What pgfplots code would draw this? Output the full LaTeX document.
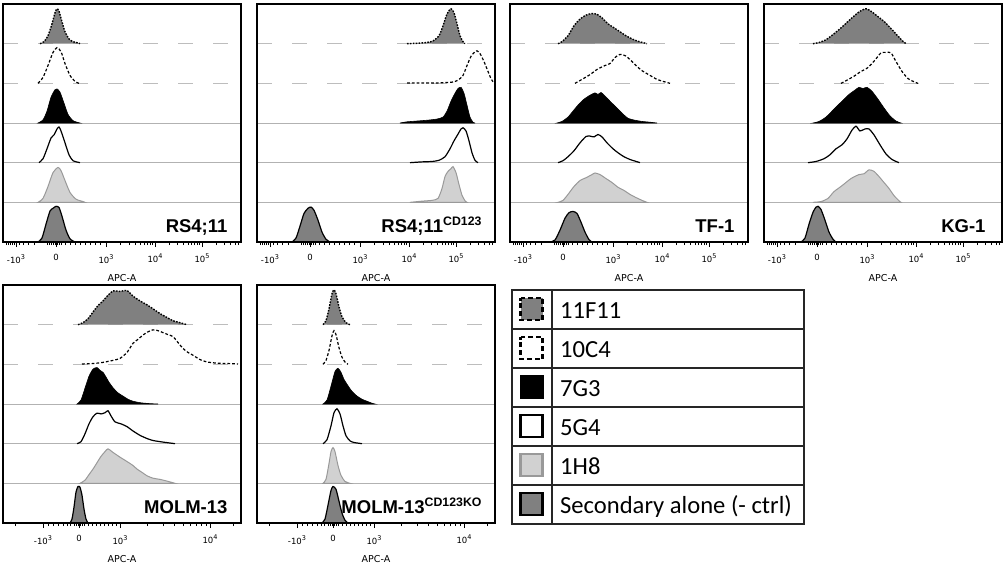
\documentclass[border=0pt]{standalone}
\usepackage{pgfplots}
\pgfplotsset{compat=1.18}
\usepackage{pgfplotstable}
\usepackage{fontspec}
\setmainfont{Liberation Sans}
\newfontfamily\dejavu{DejaVu Sans}
\newfontfamily\carlito{Carlito}
\newcommand{\ex}[1]{\raisebox{4pt}{\fontsize{6.5}{7}\selectfont #1}}

\definecolor{cF}{gray}{0.5}
\definecolor{cSec}{gray}{0.5}
\definecolor{cL}{gray}{0.82}
\definecolor{dL}{gray}{0.6}
\definecolor{baseD}{gray}{0.74}
\definecolor{baseS}{gray}{0.7}

% ---------- Panel A: RS4;11 ----------
\pgfplotstableread{
x h
37 0
41 0.05
45 0.2
49 0.5
52 0.78
54 0.88
56 0.82
59 0.55
62 0.3
66 0.12
70 0.05
75 0.02
77 0
}\dataAa
\pgfplotstableread{
x h
35 0
40 0.15
45 0.45
50 0.78
54 0.9
58 0.8
62 0.5
67 0.2
72 0.05
76 0
}\dataAb
\pgfplotstableread{
x h
35 0
40 0.08
44 0.3
48 0.65
52 0.84
54 0.86
57 0.78
61 0.5
65 0.22
70 0.06
77 0
}\dataAc
\pgfplotstableread{
x h
36 0
40 0.1
44 0.35
48 0.62
51 0.7
54 0.85
56 0.9
58 0.8
62 0.5
66 0.2
70 0.05
77 0
}\dataAd
\pgfplotstableread{
x h
35 0
40 0.1
45 0.4
50 0.75
55 0.88
58 0.8
62 0.55
67 0.25
73 0.08
80 0.02
82 0
}\dataAe
\pgfplotstableread{
x h
35 0
39 0.1
43 0.45
47 0.78
50 0.85
53 0.9
56 0.87
59 0.65
63 0.3
67 0.08
72 0
}\dataAf

% ---------- Panel B: RS4;11 CD123 ----------
\pgfplotstableread{
x h
150 0
160 0.01
170 0.03
176 0.07
182 0.2
186 0.45
190 0.75
194 0.88
197 0.78
200 0.5
203 0.2
206 0.05
208 0
}\dataBa
\pgfplotstableread{
x h
150 0.01
165 0.01
180 0.01
195 0.03
201 0.08
206 0.2
210 0.45
214 0.68
218 0.8
220 0.82
223 0.75
227 0.55
231 0.3
234 0.12
236 0.04
}\dataBb
\pgfplotstableread{
x h
143 0
150 0.03
160 0.05
170 0.07
180 0.1
186 0.15
190 0.3
194 0.55
198 0.75
201 0.87
204 0.9
207 0.75
210 0.45
213 0.15
216 0.02
218 0
}\dataBc
\pgfplotstableread{
x h
153 0
165 0.02
175 0.03
182 0.06
188 0.15
193 0.35
197 0.55
201 0.72
204 0.85
206 0.88
209 0.8
212 0.55
215 0.25
218 0.06
221 0
}\dataBd
\pgfplotstableread{
x h
153 0
165 0.03
175 0.05
181 0.1
185 0.35
188 0.65
191 0.78
194 0.85
196 0.9
199 0.75
202 0.45
205 0.18
208 0.04
210 0
}\dataBe
\pgfplotstableread{
x h
35 0
39 0.1
43 0.4
47 0.72
51 0.85
54 0.88
57 0.8
61 0.55
65 0.25
69 0.07
73 0
}\dataBf

% ---------- Panel C: TF-1 ----------
\pgfplotstableread{
x h
48 0
52 0.05
58 0.2
64 0.45
70 0.62
76 0.72
82 0.76
87 0.74
92 0.65
98 0.5
104 0.4
110 0.3
116 0.2
122 0.12
128 0.06
134 0.02
137 0
}\dataCa
\pgfplotstableread{
x h
65 0
72 0.1
80 0.22
87 0.35
95 0.45
100 0.5
105 0.65
110 0.73
115 0.7
120 0.6
126 0.45
132 0.32
140 0.2
147 0.1
153 0.05
160 0
}\dataCb
\pgfplotstableread{
x h
47 0
52 0.04
58 0.15
63 0.3
68 0.45
74 0.6
80 0.7
85 0.76
88 0.72
91 0.77
95 0.68
100 0.55
106 0.4
112 0.25
118 0.12
125 0.07
132 0.04
140 0.02
147 0
}\dataCc
\pgfplotstableread{
x h
48 0
53 0.05
58 0.15
64 0.3
70 0.5
76 0.66
80 0.67
84 0.65
88 0.71
92 0.65
97 0.5
103 0.35
108 0.25
114 0.15
120 0.08
125 0.04
130 0
}\dataCd
\pgfplotstableread{
x h
48 0
53 0.05
58 0.2
64 0.4
70 0.55
76 0.62
82 0.7
85 0.74
90 0.7
96 0.6
102 0.5
108 0.38
114 0.3
120 0.2
126 0.12
132 0.05
137 0
}\dataCe
\pgfplotstableread{
x h
40 0
45 0.05
50 0.3
55 0.6
59 0.74
63 0.77
67 0.72
71 0.5
75 0.25
79 0.06
82 0
}\dataCf

% ---------- Panel D: KG-1 ----------
\pgfplotstableread{
x h
49 0
55 0.03
62 0.1
70 0.25
78 0.42
87 0.63
95 0.8
102 0.88
108 0.8
114 0.68
120 0.56
127 0.38
134 0.19
139 0.06
142 0
}\dataDa
\pgfplotstableread{
x h
77 0
83 0.08
90 0.18
97 0.3
103 0.38
108 0.5
113 0.65
117 0.77
122 0.78
127 0.77
132 0.55
138 0.3
144 0.12
150 0.04
154 0
}\dataDb
\pgfplotstableread{
x h
49 0
55 0.04
62 0.15
70 0.35
78 0.55
85 0.72
91 0.83
95 0.9
99 0.87
103 0.9
108 0.8
114 0.6
120 0.38
126 0.18
132 0.05
137 0
}\dataDc
\pgfplotstableread{
x h
44 0
52 0.03
60 0.1
66 0.2
72 0.35
78 0.45
83 0.6
88 0.82
92 0.92
96 0.8
101 0.85
105 0.85
110 0.7
116 0.45
122 0.22
128 0.08
135 0
}\dataDd
\pgfplotstableread{
x h
49 0
57 0.02
64 0.1
70 0.27
78 0.42
87 0.6
95 0.7
100 0.72
105 0.82
110 0.78
115 0.65
120 0.5
125 0.35
130 0.17
135 0.04
137 0
}\dataDe
\pgfplotstableread{
x h
37 0
41 0.1
45 0.45
49 0.75
52 0.88
54 0.9
57 0.82
61 0.55
65 0.25
69 0.07
72 0
}\dataDf

% ---------- Panel E: MOLM-13 ----------
\pgfplotstableread{
x h
75 0
80 0.05
85 0.15
90 0.32
95 0.48
100 0.6
105 0.74
110 0.85
117 0.84
124 0.86
130 0.72
137 0.6
144 0.5
150 0.4
157 0.28
164 0.18
170 0.1
177 0.05
184 0
}\dataEa
\pgfplotstableread{
x h
79 0.01
90 0.02
100 0.05
110 0.1
117 0.15
124 0.3
130 0.53
135 0.63
140 0.74
145 0.82
150 0.87
155 0.85
160 0.8
165 0.75
170 0.7
175 0.55
180 0.4
185 0.3
190 0.23
197 0.12
204 0.06
214 0.03
225 0.02
235 0.01
}\dataEb
\pgfplotstableread{
x h
74 0
78 0.1
82 0.4
86 0.7
90 0.88
94 0.92
97 0.85
100 0.8
103 0.68
106 0.55
110 0.41
115 0.28
120 0.2
125 0.12
130 0.07
138 0.03
147 0.01
155 0
}\dataEc
\pgfplotstableread{
x h
74 0
78 0.05
82 0.25
86 0.5
90 0.68
94 0.77
98 0.75
102 0.78
105 0.83
108 0.7
112 0.55
118 0.5
124 0.43
130 0.32
137 0.21
144 0.13
150 0.08
160 0.04
172 0
}\dataEd
\pgfplotstableread{
x h
77 0
82 0.08
86 0.22
90 0.36
94 0.52
98 0.68
102 0.8
105 0.87
110 0.78
117 0.66
124 0.55
130 0.45
134 0.36
140 0.26
144 0.19
150 0.13
157 0.1
165 0.05
172 0
}\dataEe
\pgfplotstableread{
x h
67 0
69 0.1
71 0.4
73 0.78
75 0.92
77 0.9
79 0.7
81 0.35
83 0.1
85 0
}\dataEf

% ---------- Panel F: MOLM-13 CD123KO ----------
\pgfplotstableread{
x h
66 0
69 0.1
72 0.4
75 0.78
77 0.88
79 0.78
82 0.45
85 0.2
89 0.05
93 0
}\dataFa
\pgfplotstableread{
x h
66 0
69 0.1
72 0.35
75 0.72
77 0.85
79 0.75
82 0.42
85 0.18
88 0.06
91 0
}\dataFb
\pgfplotstableread{
x h
66 0
70 0.1
74 0.45
78 0.82
81 0.9
84 0.8
87 0.62
90 0.5
94 0.35
97 0.27
100 0.2
105 0.12
110 0.07
115 0.02
118 0
}\dataFc
\pgfplotstableread{
x h
66 0
70 0.1
74 0.45
77 0.78
80 0.88
83 0.75
86 0.45
89 0.2
93 0.07
97 0.03
105 0
}\dataFd
\pgfplotstableread{
x h
66 0
69 0.1
72 0.5
74 0.8
76 0.9
78 0.8
81 0.45
84 0.2
88 0.05
93 0
}\dataFe
\pgfplotstableread{
x h
65 0
68 0.1
71 0.45
74 0.82
76 0.92
79 0.85
82 0.55
85 0.25
88 0.07
91 0
}\dataFf

\pgfplotsset{
  panel/.style={
    scale only axis, width=238pt, height=238pt,
    xmin=0, xmax=238, ymin=0, ymax=6,
    ytick=\empty, axis on top,
    tick align=outside, xtick pos=left,
    major tick length=5pt, minor tick length=3pt,
    tick style={black, line width=0.8pt},
    axis line style={line width=1.1pt},
    tick label style={font=\dejavu\fontsize{8.5}{9}\selectfont},
    xticklabel style={font=\dejavu\fontsize{8.5}{9}\selectfont, inner sep=1pt, yshift=-6pt},
    xlabel={APC-A},
    xlabel style={font=\dejavu\fontsize{9.5}{10}\selectfont,
      at={(axis description cs:0.5,0)}, anchor=center, yshift=-36pt},
  },
  toppanel/.style={panel,
    xtick={13,53,103,152,199},
    xticklabels={-10\ex{3},0,10\ex{3},10\ex{4},10\ex{5}},
    minor xtick={3,5,7,9,11,16,20,25,31,44,46,48,50,52,54,56,58,62,67,72,77,82,87,92,97,
      117.7,126.4,132.5,137.2,141.1,144.4,147.2,149.8,
      166.1,174.4,180.3,184.9,188.6,191.7,194.4,196.8,
      213.1,221.4,227.3,231.9,235.6},
  },
  botpanel/.style={panel,
    xtick={40,76,117,207},
    xticklabels={-10\ex{3},0,10\ex{3},10\ex{4}},
    minor xtick={12,45,50,55,60,64,67,71,73,75,77,79,81,85,89,93,97,101,105,109,113,
      144.1,159.9,171.2,179.9,187.0,193.1,198.3,202.9,230},
  },
}
\tikzset{
  plab/.style={anchor=base east, font=\bfseries\fontsize{18.5}{20}\selectfont,
    xshift=-10pt, yshift=10pt},
}

\newcommand{\rows}[6]{%
  \addplot[draw=baseD, line width=0.9pt, dash pattern=on 15pt off 20pt] coordinates {(0,5) (238,5)};
  \addplot[draw=baseD, line width=0.9pt, dash pattern=on 15pt off 20pt] coordinates {(0,4) (238,4)};
  \addplot[draw=baseS, line width=0.9pt] coordinates {(0,3) (238,3)};
  \addplot[draw=baseS, line width=0.9pt] coordinates {(0,2) (238,2)};
  \addplot[draw=baseS, line width=0.9pt] coordinates {(0,1) (238,1)};
  \addplot[fill=cF, draw=none, smooth, tension=0.4] table[x=x, y expr=\thisrow{h}+5] {#1} -- cycle;
  \addplot[draw=black, line width=1.4pt, dash pattern=on 1.6pt off 1.3pt, smooth, tension=0.4] table[x=x, y expr=\thisrow{h}+5] {#1};
  \addplot[draw=black, line width=1.2pt, dash pattern=on 2.8pt off 2pt, smooth, tension=0.4] table[x=x, y expr=\thisrow{h}+4] {#2};
  \addplot[fill=black, draw=black, line width=0.6pt, smooth, tension=0.4] table[x=x, y expr=\thisrow{h}+3] {#3} -- cycle;
  \addplot[draw=black, line width=1.2pt, smooth, tension=0.4] table[x=x, y expr=\thisrow{h}+2] {#4};
  \addplot[fill=cL, draw=dL, line width=1pt, smooth, tension=0.4] table[x=x, y expr=\thisrow{h}+1] {#5} -- cycle;
  \addplot[fill=cSec, draw=black, line width=1.2pt, smooth, tension=0.4] table[x=x, y expr=\thisrow{h}] {#6} -- cycle;
}

\begin{document}
\begin{tikzpicture}
\begin{axis}[toppanel, at={(3pt,-242pt)}, anchor=south west]
\rows{\dataAa}{\dataAb}{\dataAc}{\dataAd}{\dataAe}{\dataAf}
\node[plab] at (rel axis cs:1,0) {RS4;11};
\end{axis}
\begin{axis}[toppanel, at={(257pt,-242pt)}, anchor=south west]
\rows{\dataBa}{\dataBb}{\dataBc}{\dataBd}{\dataBe}{\dataBf}
\node[plab] at (rel axis cs:1,0) {RS4;11\raisebox{6.5pt}{\fontsize{12.3}{13}\selectfont CD123}};
\end{axis}
\begin{axis}[toppanel, at={(510pt,-242pt)}, anchor=south west]
\rows{\dataCa}{\dataCb}{\dataCc}{\dataCd}{\dataCe}{\dataCf}
\node[plab] at (rel axis cs:1,0) {TF-1};
\end{axis}
\begin{axis}[toppanel, at={(764pt,-242pt)}, anchor=south west]
\rows{\dataDa}{\dataDb}{\dataDc}{\dataDd}{\dataDe}{\dataDf}
\node[plab, xshift=-3pt] at (rel axis cs:1,0) {KG-1};
\end{axis}
\begin{axis}[botpanel, at={(3pt,-523pt)}, anchor=south west]
\rows{\dataEa}{\dataEb}{\dataEc}{\dataEd}{\dataEe}{\dataEf}
\node[plab] at (rel axis cs:1,0) {MOLM-13};
\end{axis}
\begin{axis}[botpanel, at={(257pt,-523pt)}, anchor=south west]
\rows{\dataFa}{\dataFb}{\dataFc}{\dataFd}{\dataFe}{\dataFf}
\node[plab] at (rel axis cs:1,0) {MOLM-13\raisebox{6.5pt}{\fontsize{12.3}{13}\selectfont CD123KO}};
\end{axis}

% ---------- legend ----------
\draw[line width=1.3pt, black!85] (512pt,-290pt) rectangle (804pt,-524pt);
\foreach \yy in {329,368,407,446,485} {
  \draw[line width=1.3pt, black!85] (512pt,-\yy*1pt) -- (804pt,-\yy*1pt);
}
\draw[line width=1.3pt, black!85] (552pt,-290pt) -- (552pt,-524pt);
\draw[fill=cF, draw=black, line width=2.6pt, dash pattern=on 5pt off 2.8pt, dash phase=2.5pt] (520.5pt,-298pt) rectangle (542.5pt,-320pt);
\draw[fill=white, draw=black, line width=2.6pt, dash pattern=on 5pt off 2.8pt, dash phase=2.5pt] (520.5pt,-337pt) rectangle (542.5pt,-359pt);
\fill[black] (519.5pt,-375pt) rectangle (543.5pt,-399pt);
\draw[fill=white, draw=black, line width=2.6pt] (520.5pt,-415pt) rectangle (542.5pt,-437pt);
\draw[fill=cL, draw=dL, line width=2.6pt] (520.5pt,-454pt) rectangle (542.5pt,-476pt);
\draw[fill=cSec, draw=black, line width=2.6pt] (520.5pt,-493pt) rectangle (542.5pt,-515pt);
\begin{scope}[every node/.style={anchor=base west, inner sep=0pt, font=\carlito\fontsize{24.6}{26}\selectfont}]
\node at (560pt,-318pt) {11F11};
\node at (560pt,-357pt) {10C4};
\node at (560pt,-396pt) {7G3};
\node at (560pt,-435pt) {5G4};
\node at (560pt,-474pt) {1H8};
\node at (560pt,-513pt) {Secondary alone (- ctrl)};
\end{scope}

\pgfresetboundingbox
\path (0pt,0pt) rectangle (1005pt,-568pt);
\end{tikzpicture}
\end{document}
